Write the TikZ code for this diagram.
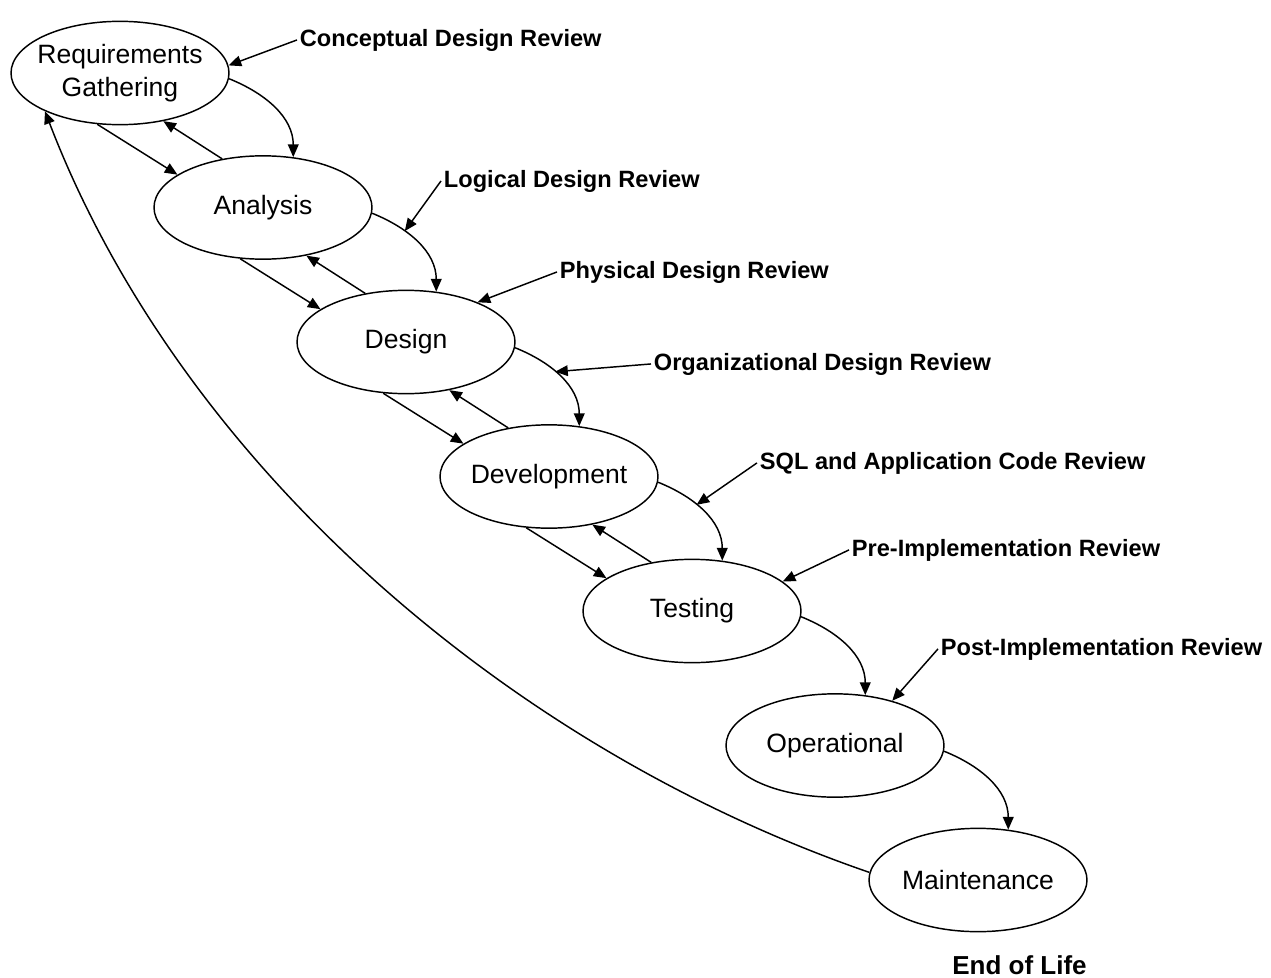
\documentclass[tikz,border=0pt]{standalone}
\usepackage{fontspec}
\setmainfont{Liberation Sans}
\usetikzlibrary{shapes.geometric,arrows.meta}
\begin{document}
\begin{tikzpicture}[x=0.75pt,y=0.75pt,
  stage/.style={ellipse,draw,line width=1.1pt,minimum width=163.5pt,minimum height=77.5pt,inner sep=0pt},
  stagetext/.style={font=\fontsize{19.9}{24.5}\selectfont,align=center,inner sep=0pt},
  review/.style={font=\fontsize{17.7}{21}\selectfont\bfseries,anchor=base west,inner sep=2pt},
  conn/.style={line width=1.1pt,-{Triangle[length=9.5pt,width=8pt]}},
]
\useasboundingbox (0,0) rectangle (1271,-978);

% stages
\node[stage,label={[stagetext]center:Requirements\\Gathering}] (R) at (120,-73) {};
\node[stage,label={[stagetext]center:Analysis}] (A) at (263,-207.5) {};
\node[stage,label={[stagetext]center:Design}] (D) at (406,-342) {};
\node[stage,label={[stagetext]center:Development}] (V) at (549,-476.5) {};
\node[stage,label={[stagetext]center:Testing}] (T) at (692,-611) {};
\node[stage,label={[stagetext]center:Operational}] (O) at (835,-745.5) {};
\node[stage,label={[stagetext]center:Maintenance}] (M) at (978,-880) {};

% review labels
\node[review] (lc) at (297,-46) {Conceptual Design Review};
\node[review] (ll) at (441,-187) {Logical Design Review};
\node[review] (lp) at (557,-278) {Physical Design Review};
\node[review] (lo) at (651,-370) {Organizational Design Review};
\node[review] (ls) at (757,-469) {SQL and Application Code Review};
\node[review] (lpre) at (849,-556) {Pre-Implementation Review};
\node[review] (lpost) at (938,-655) {Post-Implementation Review};
\node[font=\fontsize{19.5}{22}\selectfont\bfseries,anchor=base,inner sep=0pt] (eol) at (1019.5,-974) {End of Life};

% forward curved arrows
\draw[conn] (R.-3) to[out=-22,in=90] (A.59);
\draw[conn] (A.-3) to[out=-22,in=90] coordinate[pos=0.33] (cAD) (D.59);
\draw[conn] (D.-3) to[out=-22,in=90] coordinate[pos=0.42] (cDV) (V.59);
\draw[conn] (V.-3) to[out=-22,in=90] coordinate[pos=0.4] (cVT) (T.59);
\draw[conn] (T.-3) to[out=-22,in=90] (O.59);
\draw[conn] (O.-3) to[out=-22,in=90] (M.59);

% straight forward / backward arrows
\foreach \a/\b in {R/A,A/D,D/V,V/T}{
  \draw[conn] (\a.246) -- (\b.159.5);
  \draw[conn] (\b.130) -- (\a.-48);
}

% review arrows
\draw[conn] (lc.west) -- (R.4);
\draw[conn] (ll.west) -- (cAD);
\draw[conn] (lp.west) -- (D.29);
\draw[conn] (lo.west) -- (cDV);
\draw[conn] (ls.west) -- (cVT);
\draw[conn] (lpre.west) -- (T.18);
\draw[conn] (lpost.west) -- (O.38);

% return arrow
\draw[conn] (M.176) .. controls +(161:380) and +(-69:380) .. (R.207);
\end{tikzpicture}
\end{document}
